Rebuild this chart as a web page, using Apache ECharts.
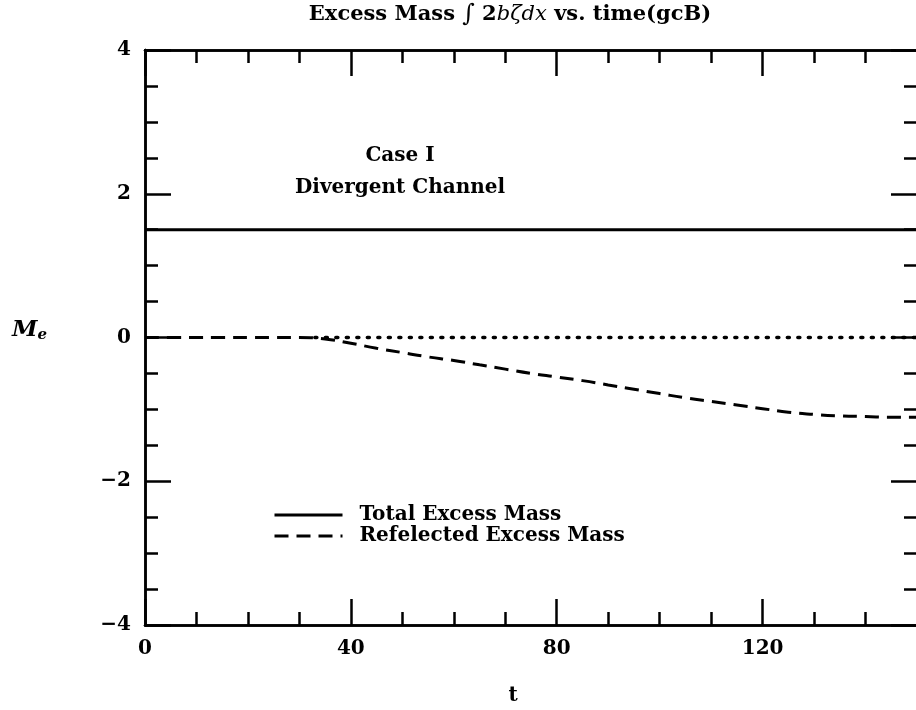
<!DOCTYPE html>
<html>
<head>
<meta charset="utf-8">
<script src="https://cdn.jsdelivr.net/npm/echarts@6/dist/echarts.min.js"></script>
<style>
  html, body { margin: 0; padding: 0; background: #fff; }
  #main { width: 916px; height: 710px; }
</style>
</head>
<body>
<div id="main"></div>
<script>
// data
var tValues = [0, 5, 10, 15, 20, 25, 30, 35, 40, 45, 50, 55, 60, 65, 70, 75,
               80, 85, 90, 95, 100, 105, 110, 115, 120, 125, 130, 135, 140, 145, 150];
var totalMass = [1.5, 1.5, 1.5, 1.5, 1.5, 1.5, 1.5, 1.5, 1.5, 1.5, 1.5, 1.5, 1.5, 1.5, 1.5, 1.5,
                 1.5, 1.5, 1.5, 1.5, 1.5, 1.5, 1.5, 1.5, 1.5, 1.5, 1.5, 1.5, 1.5, 1.5, 1.5];
var reflectedMass = [0, 0, 0, 0, 0, 0, 0, -0.02, -0.08, -0.15, -0.21, -0.27, -0.32, -0.38, -0.44, -0.50,
                     -0.55, -0.60, -0.66, -0.72, -0.78, -0.84, -0.89, -0.94, -0.99, -1.04, -1.07, -1.09, -1.10, -1.11, -1.11];
var zeroT = [33, 150];
var zeroLine = [0, 0];
var xLabels = [0, 40, 80, 120];
var yLabels = [-4, -2, 0, 2, 4];

var serif = '"DejaVu Serif", "Liberation Serif", serif';

function pairs(xs, ys) {
    return xs.map(function (x, i) { return [x, ys[i]]; });
}

var myChart = echarts.init(document.getElementById('main'), null, {renderer: 'canvas'});

// an axis that only draws ticks (and optionally labels)
function tickAxis(pos, min, max, interval, len, labels, fmt) {
    return {
        type: 'value', position: pos, min: min, max: max, interval: interval,
        splitLine: {show: false},
        axisLine: {show: true, onZero: false, lineStyle: {color: '#000', width: 2.5}},
        axisTick: {show: true, inside: true, length: len, lineStyle: {color: '#000', width: 2.5}},
        axisLabel: labels ? {
            show: true, margin: 14, color: '#000', fontFamily: serif, fontWeight: 'bold', fontSize: 20,
            formatter: fmt
        } : {show: false}
    };
}

var xFmt = function (v) { return xLabels.indexOf(v) >= 0 ? String(v) : ''; };
var yFmt = function (v) {
    if (yLabels.indexOf(v) < 0) return '';
    return v < 0 ? '\u2212' + Math.abs(v) : String(v);
};

var option = {
    backgroundColor: '#fff',
    animation: false,
    grid: {left: 145, top: 50, width: 772, height: 575, outerBoundsMode: 'none', containLabel: false},
    xAxis: [
        tickAxis('bottom', 0, 150, 10, 13, true, xFmt),
        tickAxis('bottom', 0, 150, 40, 26, false),
        tickAxis('top', 0, 150, 10, 13, false),
        tickAxis('top', 0, 150, 40, 26, false)
    ],
    yAxis: [
        tickAxis('left', -4, 4, 0.5, 13, true, yFmt),
        tickAxis('left', -4, 4, 2, 26, false),
        tickAxis('right', -4, 4, 0.5, 13, false),
        tickAxis('right', -4, 4, 2, 26, false)
    ],
    legend: {
        orient: 'vertical',
        left: 268, top: 500,
        itemWidth: 68, itemHeight: 12, itemGap: 1,
        itemStyle: {opacity: 0},
        lineStyle: {width: 3},
        data: ['Total Excess Mass', 'Refelected Excess Mass'],
        textStyle: {color: '#000', fontFamily: serif, fontWeight: 'bold', fontSize: 20, padding: [0, 0, 0, 12]}
    },
    series: [
        {
            name: 'Total Excess Mass', type: 'line', symbol: 'none',
            data: pairs(tValues, totalMass),
            lineStyle: {color: '#000', width: 3, type: 'solid'}, itemStyle: {color: '#000'}
        },
        {
            name: 'Refelected Excess Mass', type: 'line', symbol: 'none', smooth: true,
            data: pairs(tValues, reflectedMass),
            lineStyle: {color: '#000', width: 3, type: [14, 8]}, itemStyle: {color: '#000'}
        },
        {
            name: 'zero', type: 'line', symbol: 'none',
            data: pairs(zeroT, zeroLine),
            lineStyle: {color: '#000', width: 3.5, type: [2, 8.5], cap: 'round'}, itemStyle: {color: '#000'}
        }
    ],
    graphic: [
        {
            type: 'text', x: 510, y: 3,
            style: {
                text: '{a|Excess Mass }{i|\u222B}{a| 2}{m|b\u03B6dx}{a| vs. time(gcB)}',
                textAlign: 'center',
                rich: {
                    a: {fontFamily: serif, fontWeight: 'bold', fontSize: 21, fill: '#000'},
                    i: {fontFamily: serif, fontSize: 24, fill: '#000'},
                    m: {fontFamily: serif, fontStyle: 'italic', fontSize: 21, fill: '#000'}
                }
            }
        },
        {
            type: 'text', x: 400, y: 146,
            style: {text: 'Case I', textAlign: 'center', fill: '#000',
                    font: 'bold 20px ' + serif}
        },
        {
            type: 'text', x: 400, y: 178,
            style: {text: 'Divergent Channel', textAlign: 'center', fill: '#000',
                    font: 'bold 20px ' + serif}
        },
        {
            type: 'text', x: 12, y: 318,
            style: {
                text: '{m|M}{s|e}',
                rich: {
                    m: {fontFamily: serif, fontStyle: 'italic', fontWeight: 'bold', fontSize: 23, fill: '#000'},
                    s: {fontFamily: serif, fontStyle: 'italic', fontWeight: 'bold', fontSize: 15, fill: '#000', padding: [10, 0, 0, 0]}
                }
            }
        },
        {
            type: 'text', x: 513, y: 686,
            style: {text: 't', textAlign: 'center', fill: '#000', font: 'bold 20px ' + serif}
        }
    ]
};

myChart.setOption(option);
</script>
</body>
</html>
